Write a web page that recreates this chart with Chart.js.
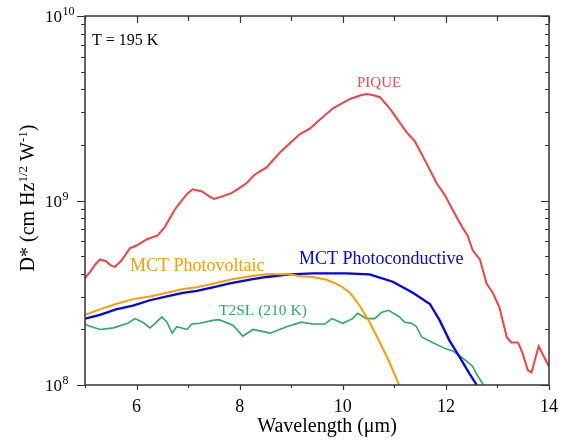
<!DOCTYPE html>
<html>
<head>
<meta charset="utf-8">
<script src="https://cdn.jsdelivr.net/npm/chart.js@4"></script>
<style>
html,body{margin:0;padding:0;background:#fff;}
#wrap{width:566px;height:441px;}
</style>
</head>
<body>
<div id="wrap"><canvas id="c" width="566" height="441"></canvas></div>
<script>
// ---- data ----
const piqueX = [5.00,5.10,5.20,5.29,5.40,5.50,5.58,5.70,5.87,6.00,6.20,6.41,6.55,6.74,6.90,7.00,7.09,7.27,7.42,7.50,7.65,7.85,8.00,8.13,8.29,8.52,8.78,9.01,9.17,9.36,9.52,9.81,10.14,10.35,10.46,10.60,10.72,10.91,11.10,11.24,11.40,11.63,11.82,11.98,12.17,12.33,12.42,12.52,12.66,12.79,12.91,13.04,13.18,13.27,13.40,13.49,13.59,13.66,13.80,13.91,14.00];
const piqueY = [3.80e8,4.10e8,4.50e8,4.79e8,4.70e8,4.45e8,4.37e8,4.70e8,5.50e8,5.70e8,6.17e8,6.46e8,7.20e8,8.91e8,1.02e9,1.10e9,1.15e9,1.12e9,1.05e9,1.02e9,1.05e9,1.10e9,1.17e9,1.24e9,1.38e9,1.51e9,1.82e9,2.09e9,2.29e9,2.45e9,2.69e9,3.16e9,3.55e9,3.72e9,3.78e9,3.72e9,3.63e9,3.16e9,2.66e9,2.34e9,2.09e9,1.58e9,1.24e9,1.07e9,8.51e8,7.08e8,6.46e8,5.37e8,4.79e8,3.55e8,3.16e8,2.63e8,1.82e8,1.70e8,1.70e8,1.48e8,1.20e8,1.17e8,1.62e8,1.41e8,1.26e8];

const pvX = [5.00,5.29,5.60,5.93,6.26,6.59,6.90,7.17,7.50,7.81,8.20,8.52,8.97,9.17,9.42,9.69,9.94,10.14,10.33,10.52,10.72,10.91,11.09];
const pvY = [2.40e8,2.57e8,2.75e8,2.92e8,3.02e8,3.16e8,3.31e8,3.39e8,3.55e8,3.72e8,3.89e8,3.98e8,3.98e8,3.89e8,3.85e8,3.72e8,3.47e8,3.16e8,2.69e8,2.19e8,1.70e8,1.32e8,1.00e8];

const pcX = [5.00,5.29,5.60,5.93,6.26,6.59,6.90,7.17,7.50,7.81,8.20,8.52,8.97,9.42,10.07,10.52,10.97,11.36,11.69,11.88,12.07,12.27,12.46,12.60];
const pcY = [2.29e8,2.40e8,2.57e8,2.69e8,2.88e8,3.02e8,3.16e8,3.24e8,3.39e8,3.55e8,3.72e8,3.85e8,3.98e8,4.03e8,4.03e8,3.98e8,3.63e8,3.16e8,2.75e8,2.24e8,1.74e8,1.41e8,1.15e8,1.00e8];

const t2X = [5.00,5.04,5.29,5.55,5.83,5.97,6.12,6.26,6.36,6.49,6.59,6.69,6.78,6.98,7.07,7.23,7.48,7.60,7.87,8.06,8.26,8.59,8.91,9.20,9.42,9.65,9.79,10.00,10.19,10.29,10.46,10.62,10.76,10.89,11.10,11.20,11.34,11.43,11.53,11.74,12.00,12.13,12.33,12.52,12.60,12.73];
const t2Y = [2.14e8,2.11e8,2.00e8,2.04e8,2.16e8,2.29e8,2.19e8,2.04e8,2.16e8,2.34e8,2.19e8,1.91e8,2.07e8,2.00e8,2.14e8,2.16e8,2.24e8,2.26e8,2.11e8,1.84e8,2.00e8,1.91e8,2.07e8,2.19e8,2.14e8,2.14e8,2.29e8,2.16e8,2.29e8,2.45e8,2.29e8,2.29e8,2.48e8,2.54e8,2.34e8,2.19e8,2.16e8,2.07e8,1.82e8,1.70e8,1.57e8,1.53e8,1.40e8,1.26e8,1.14e8,1.00e8];

const xTickLabels = [6, 8, 10, 12, 14];
const xMinorTicks = [5, 7, 9, 11, 13];
const yTickExps = [8, 9, 10];

const FONT = "'Liberation Serif', 'Times New Roman', serif";
const zip = (xs, ys) => xs.map((x, i) => ({x: x, y: ys[i]}));

const overlay = {
  id: 'overlay',
  afterDraw(chart) {
    const ctx = chart.ctx;
    const xs = chart.scales.x, ys = chart.scales.y;
    const L = xs.left, R = xs.right, T = ys.top, B = ys.bottom;
    ctx.save();
    ctx.strokeStyle = '#333';
    ctx.lineWidth = 1.5;
    ctx.strokeRect(L, T, R - L, B - T);
    ctx.lineWidth = 1.2;
    ctx.beginPath();
    const xt = (v, len) => {
      const p = Math.round(xs.getPixelForValue(v)) + 0.5;
      ctx.moveTo(p, B); ctx.lineTo(p, B + len);
      ctx.moveTo(p, T); ctx.lineTo(p, T + len + 2);
    };
    xTickLabels.forEach(v => xt(v, 5));
    xMinorTicks.forEach(v => xt(v, 3));
    const yt = (v, len) => {
      const p = Math.round(ys.getPixelForValue(v)) + 0.5;
      ctx.moveTo(L, p); ctx.lineTo(L - len, p);
      ctx.moveTo(R, p); ctx.lineTo(R - len, p);
    };
    for (let e = 8; e <= 9; e++) {
      for (let m = 2; m <= 9; m++) yt(m * Math.pow(10, e), 4);
    }
    yTickExps.forEach(e => yt(Math.pow(10, e), 8));
    ctx.stroke();

    ctx.fillStyle = '#000';
    ctx.font = '18px ' + FONT;
    ctx.textAlign = 'center';
    ctx.textBaseline = 'alphabetic';
    xTickLabels.forEach(v => ctx.fillText(String(v), xs.getPixelForValue(v), 412));

    yTickExps.forEach(e => {
      const p = ys.getPixelForValue(Math.pow(10, e));
      ctx.font = '17px ' + FONT;
      ctx.textAlign = 'right';
      ctx.fillText('10', 62, p + 6);
      ctx.font = '12px ' + FONT;
      ctx.textAlign = 'left';
      ctx.fillText(String(e), 62.5, p - 1);
    });

    ctx.font = '20px ' + FONT;
    ctx.textAlign = 'center';
    ctx.fillText('Wavelength (\u03bcm)', 327, 432);

    ctx.save();
    ctx.translate(34, 198);
    ctx.rotate(-Math.PI / 2);
    const parts = [
      ['D* (cm Hz', 20, 0],
      ['1/2', 13, -7],
      [' W', 20, 0],
      ['-1', 13, -7],
      [')', 20, 0]
    ];
    let total = 0;
    parts.forEach(pt => { ctx.font = pt[1] + 'px ' + FONT; total += ctx.measureText(pt[0]).width; });
    let x0 = -total / 2;
    ctx.textAlign = 'left';
    parts.forEach(pt => {
      ctx.font = pt[1] + 'px ' + FONT;
      ctx.fillText(pt[0], x0, pt[2]);
      x0 += ctx.measureText(pt[0]).width;
    });
    ctx.restore();

    ctx.textAlign = 'left';
    ctx.font = '16px ' + FONT;
    ctx.fillStyle = '#000';
    ctx.fillText('T = 195 K', 92, 45);
    ctx.font = '15px ' + FONT;
    ctx.fillStyle = '#ee4b4b';
    ctx.fillText('PIQUE', 357, 87);
    ctx.font = '18px ' + FONT;
    ctx.fillStyle = '#f5a000';
    ctx.fillText('MCT Photovoltaic', 130, 271);
    ctx.fillStyle = '#0000ee';
    ctx.fillText('MCT Photoconductive', 299, 264);
    ctx.font = '15.5px ' + FONT;
    ctx.fillStyle = '#2ea860';
    ctx.fillText('T2SL (210 K)', 219, 315);
    ctx.restore();
  }
};

new Chart(document.getElementById('c'), {
  type: 'line',
  data: {
    datasets: [
      {label: 'PIQUE', data: zip(piqueX, piqueY), borderColor: '#ee4444', borderWidth: 2},
      {label: 'MCT Photovoltaic', data: zip(pvX, pvY), borderColor: '#f5a000', borderWidth: 2},
      {label: 'MCT Photoconductive', data: zip(pcX, pcY), borderColor: '#0000ee', borderWidth: 2.3},
      {label: 'T2SL (210 K)', data: zip(t2X, t2Y), borderColor: '#2ea860', borderWidth: 1.6}
    ]
  },
  options: {
    responsive: false,
    animation: false,
    devicePixelRatio: 1,
    layout: {padding: {top: 16, right: 17, left: 0, bottom: 0}},
    elements: {point: {radius: 0}, line: {tension: 0, fill: false}},
    plugins: {legend: {display: false}, tooltip: {enabled: false}},
    scales: {
      x: {
        type: 'linear', min: 5, max: 14,
        grid: {display: false}, border: {display: false},
        ticks: {display: false},
        afterFit: s => { s.height = 56; }
      },
      y: {
        type: 'logarithmic', min: 1e8, max: 1e10,
        grid: {display: false}, border: {display: false},
        ticks: {display: false},
        afterFit: s => { s.width = 85; }
      }
    }
  },
  plugins: [overlay]
});
</script>
</body>
</html>
